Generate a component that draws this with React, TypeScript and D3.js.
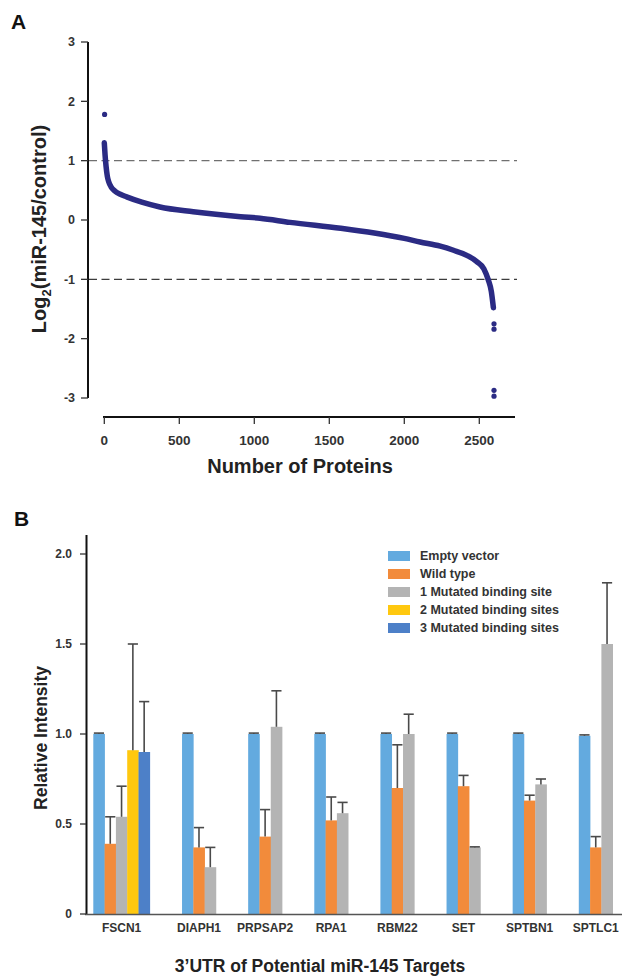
import React from "react";
import * as d3 from "d3";

// ---------- Panel A data ----------
const curveRanks = [0, 5, 12, 20, 30, 45, 70, 110, 149, 250, 371, 593, 909, 1038, 1238, 1576, 1800, 2000, 2105, 2240, 2328, 2420, 2483, 2530, 2560, 2580, 2594];
const curveValues = [1.3, 1.1, 0.9, 0.74, 0.64, 0.56, 0.49, 0.43, 0.39, 0.3, 0.22, 0.14, 0.056, 0.03, -0.04, -0.14, -0.22, -0.31, -0.37, -0.44, -0.51, -0.6, -0.7, -0.82, -1.01, -1.2, -1.48];
const outlierRanks = [2, 2598, 2598, 2598, 2598];
const outlierValues = [1.78, -1.75, -1.84, -2.87, -2.97];
const aXTicks = [0, 500, 1000, 1500, 2000, 2500];
const aYTicks = [3, 2, 1, 0, -1, -2, -3];
const aThresholds = [1, -1];

// ---------- Panel B data ----------
const categories = ["FSCN1", "DIAPH1", "PRPSAP2", "RPA1", "RBM22", "SET", "SPTBN1", "SPTLC1"];
const seriesNames = ["Empty vector", "Wild type", "1 Mutated binding site", "2 Mutated binding sites", "3 Mutated binding sites"];
const seriesColors = ["#63aadf", "#f28b3b", "#b4b4b4", "#ffc80f", "#4d80c8"];
const emptyVector = [1.0, 1.0, 1.0, 1.0, 1.0, 1.0, 1.0, 0.99];
const emptyVectorErr = [0.005, 0.005, 0.005, 0.005, 0.005, 0.005, 0.005, 0.005];
const wildType = [0.39, 0.37, 0.43, 0.52, 0.7, 0.71, 0.63, 0.37];
const wildTypeErr = [0.15, 0.11, 0.15, 0.13, 0.24, 0.06, 0.03, 0.06];
const mut1 = [0.54, 0.26, 1.04, 0.56, 1.0, 0.37, 0.72, 1.5];
const mut1Err = [0.17, 0.11, 0.2, 0.06, 0.11, 0.003, 0.03, 0.34];
const mut2 = [0.91, null, null, null, null, null, null, null];
const mut2Err = [0.59, null, null, null, null, null, null, null];
const mut3 = [0.9, null, null, null, null, null, null, null];
const mut3Err = [0.28, null, null, null, null, null, null, null];
const bYTicks = [0, 0.5, 1.0, 1.5, 2.0];

const FONT = "'Liberation Sans', Arial, Helvetica, sans-serif";
const TXT = "#333";

export default function App() {
  // ----- Panel A scales -----
  const xA = d3.scaleLinear().domain([0, 2500]).range([104.3, 479.3]);
  const yA = d3.scaleLinear().domain([-3, 3]).range([398, 42]);
  const curvePts = curveRanks.map((r, i) => [r, curveValues[i]] as [number, number]);
  const line = d3
    .line<[number, number]>()
    .x((d) => xA(d[0]))
    .y((d) => yA(d[1]))
    .curve(d3.curveMonotoneX);

  // ----- Panel B scales -----
  const yB = d3.scaleLinear().domain([0, 2]).range([914, 554]);
  const allSeries = [emptyVector, wildType, mut1, mut2, mut3];
  const allErr = [emptyVectorErr, wildTypeErr, mut1Err, mut2Err, mut3Err];
  const gapUnits = 2.85;
  const counts = categories.map((_, ci) => allSeries.filter((s) => s[ci] != null).length);
  const starts: number[] = [];
  let acc = 0;
  counts.forEach((c, i) => {
    starts.push(acc);
    acc += c + (i < counts.length - 1 ? gapUnits : 0);
  });
  const unit = d3.scaleLinear().domain([0, acc]).range([93.3, 612.7]);
  const barW = unit(1) - unit(0);

  const bars: any[] = [];
  categories.forEach((cat, ci) => {
    let k = 0;
    allSeries.forEach((s, si) => {
      const v = s[ci];
      if (v == null) return;
      const x0 = unit(starts[ci] + k);
      bars.push({ cat, si, v, e: allErr[si][ci] ?? 0, x0 });
      k++;
    });
  });

  return (
    <svg
      width={626}
      height={979}
      style={{ position: "absolute", left: 0, top: 0, background: "#fff" }}
      fontFamily={FONT}
    >
      <rect x={0} y={0} width={626} height={979} fill="#fff" />
      {/* ===== Panel A ===== */}
      <text x={11} y={29} fontSize={21} fontWeight="bold" fill="#111">A</text>
      {aThresholds.map((t, i) => (
        <line
          key={t}
          x1={89}
          x2={517}
          y1={yA(t)}
          y2={yA(t)}
          stroke={i === 0 ? "#707070" : "#3c3c3c"}
          strokeWidth={1.4}
          strokeDasharray="8,4.5"
        />
      ))}
      <line x1={88} x2={88} y1={yA(3)} y2={yA(-3)} stroke="#111" strokeWidth={2} />
      {aYTicks.map((t) => (
        <g key={t}>
          <line x1={81} x2={88} y1={yA(t)} y2={yA(t)} stroke="#333" strokeWidth={1.3} />
          <text x={75} y={yA(t)} dy="0.35em" textAnchor="end" fontSize={12.5} fontWeight="bold" fill={TXT}>
            {t}
          </text>
        </g>
      ))}
      <text
        transform={`translate(46,229) rotate(-90)`}
        textAnchor="middle"
        fontSize={20}
        fontWeight="bold"
        fill="#222"
      >
        Log
        <tspan fontSize={13} dy={5}>2</tspan>
        <tspan dy={-5}>(miR-145/control)</tspan>
      </text>
      <line x1={103} x2={515} y1={417} y2={417} stroke="#111" strokeWidth={2} />
      {aXTicks.map((t) => (
        <g key={t}>
          <line x1={xA(t)} x2={xA(t)} y1={417} y2={424} stroke="#333" strokeWidth={1.3} />
          <text x={xA(t)} y={445} textAnchor="middle" fontSize={13.5} fontWeight="bold" fill={TXT}>
            {t}
          </text>
        </g>
      ))}
      <text x={300} y={473} textAnchor="middle" fontSize={20} fontWeight="bold" fill="#222">
        Number of Proteins
      </text>
      <path d={line(curvePts) || ""} fill="none" stroke="#2b2b84" strokeWidth={5.5} strokeLinecap="round" />
      {outlierRanks.map((r, i) => (
        <circle key={i} cx={xA(r)} cy={yA(outlierValues[i])} r={2.6} fill="#2b2b84" />
      ))}

      {/* ===== Panel B ===== */}
      <text x={14} y={526} fontSize={21} fontWeight="bold" fill="#111">B</text>
      {bars.map((b, i) => (
        <rect
          key={i}
          x={b.x0}
          y={yB(b.v)}
          width={barW + 0.3}
          height={yB(0) - yB(b.v)}
          fill={seriesColors[b.si]}
        />
      ))}
      {bars.map((b, i) => {
        const cx = b.x0 + barW / 2;
        const top = yB(b.v + b.e);
        return (
          <g key={"e" + i} stroke="#4a4a4a" strokeWidth={1.6}>
            <line x1={cx} x2={cx} y1={yB(b.v)} y2={top} />
            <line x1={cx - barW * 0.45} x2={cx + barW * 0.45} y1={top} y2={top} />
          </g>
        );
      })}
      <line x1={86.5} x2={86.5} y1={535} y2={915} stroke="#111" strokeWidth={2} />
      <line x1={85} x2={622} y1={914.5} y2={914.5} stroke="#555" strokeWidth={1.6} />
      {bYTicks.map((t) => (
        <g key={t}>
          <line x1={80} x2={86} y1={yB(t)} y2={yB(t)} stroke="#333" strokeWidth={1.3} />
          <text x={72} y={yB(t)} dy="0.35em" textAnchor="end" fontSize={12} fontWeight="bold" fill={TXT}>
            {t === 0 ? "0" : t.toFixed(1)}
          </text>
        </g>
      ))}
      {categories.map((c, ci) => {
        const cx = (unit(starts[ci]) + unit(starts[ci] + counts[ci])) / 2;
        return (
          <text key={c} x={cx} y={932} textAnchor="middle" fontSize={12} fontWeight="bold" fill={TXT}>
            {c}
          </text>
        );
      })}
      <text
        transform={`translate(47,738) rotate(-90)`}
        textAnchor="middle"
        fontSize={17.5}
        fontWeight="bold"
        fill="#222"
      >
        Relative Intensity
      </text>
      <text x={320} y={972} textAnchor="middle" fontSize={17.5} fontWeight="bold" fill="#222">
        3’UTR of Potential miR-145 Targets
      </text>
      {seriesNames.map((n, i) => {
        const y = 556 + i * 18;
        return (
          <g key={n}>
            <rect x={388} y={y - 5} width={22} height={10} fill={seriesColors[i]} />
            <text x={420} y={y} dy="0.35em" fontSize={12.5} fontWeight="bold" fill={TXT}>
              {n}
            </text>
          </g>
        );
      })}
    </svg>
  );
}
